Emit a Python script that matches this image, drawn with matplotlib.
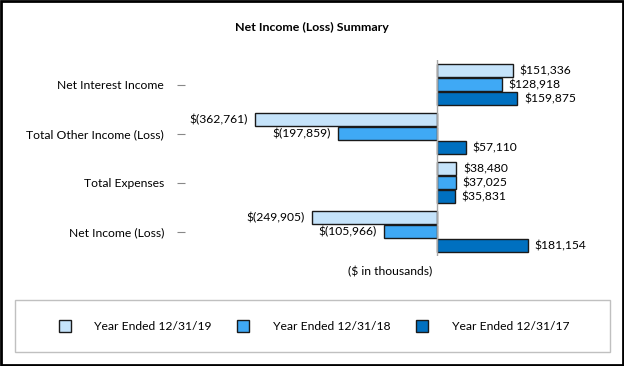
import matplotlib
matplotlib.use("Agg")
import matplotlib.pyplot as plt
from matplotlib.patches import Rectangle
import numpy as np

categories = ["Net Interest Income", "Total Other Income (Loss)", "Total Expenses", "Net Income (Loss)"]
series_names = ["Year Ended 12/31/19", "Year Ended 12/31/18", "Year Ended 12/31/17"]
fy2019 = [151336, -362761, 38480, -249905]
fy2018 = [128918, -197859, 37025, -105966]
fy2017 = [159875, 57110, 35831, 181154]
colors = ["#C5E3FA", "#3FA9F5", "#0070C0"]

plt.rcParams['font.family'] = ['Lato', 'DejaVu Sans']
FS = 8.7

W, H = 624, 366
fig = plt.figure(figsize=(W/100, H/100), dpi=100)
fig.patch.set_facecolor("white")

def px(x0, y0, x1, y1):
    return [x0/W, 1 - y1/H, (x1-x0)/W, (y1-y0)/H]

ax = fig.add_axes(px(185, 60, 600, 256))
scale = 0.502  # px per thousand
xmin = (185-437)/scale*1000
xmax = (600-437)/scale*1000
ax.set_xlim(xmin, xmax)
ax.set_ylim(3.5, -0.5)

y = np.arange(len(categories))
step = 0.287
h = 0.255
for i, (vals, c, name) in enumerate(zip([fy2019, fy2018, fy2017], colors, series_names)):
    yy = y + (i-1)*step
    ax.barh(yy, vals, height=h, color=c, edgecolor="#1a1a1a", linewidth=1.0, label=name)
    for v, yv in zip(vals, yy):
        if v >= 0:
            ax.annotate(f"${v:,}", (v, yv), xytext=(5, 0), textcoords="offset points",
                        ha="left", va="center", fontsize=FS)
        else:
            ax.annotate(f"$({-v:,})", (v, yv), xytext=(-5, 0), textcoords="offset points",
                        ha="right", va="center", fontsize=FS)

ax.axvline(0, color="#a6a6a6", linewidth=1)
for s in ax.spines.values():
    s.set_visible(False)
ax.set_xticks([])
ax.set_yticks(y)
ax.set_yticklabels(categories, fontsize=FS)
ax.tick_params(axis="y", length=6, color="#888888", pad=9, width=0.8)

fig.text(312/W, 1-27/H, "Net Income (Loss) Summary", ha="center", va="center",
         fontsize=8.9, fontweight="bold")
fig.text(390/W, 1-272/H, "($ in thousands)", ha="center", va="center", fontsize=FS)

# legend frame
fig.patches.append(Rectangle((15/W, 1-352/H), 595/W, 52/H, transform=fig.transFigure,
                             facecolor="white", edgecolor="#c0c0c0", linewidth=1))
handles, labels = ax.get_legend_handles_labels()
leg = fig.legend(handles, labels, ncol=3, loc="center", bbox_to_anchor=(314/W, 1-326/H),
                 frameon=False, fontsize=FS, handlelength=1.0, handleheight=1.1,
                 handletextpad=1.95, columnspacing=2.1)

# outer border
fig.patches.append(Rectangle((0.002, 0.003), 0.996, 0.994, transform=fig.transFigure,
                             facecolor="none", edgecolor="black", linewidth=2))

fig.savefig("out.png", dpi=100)
